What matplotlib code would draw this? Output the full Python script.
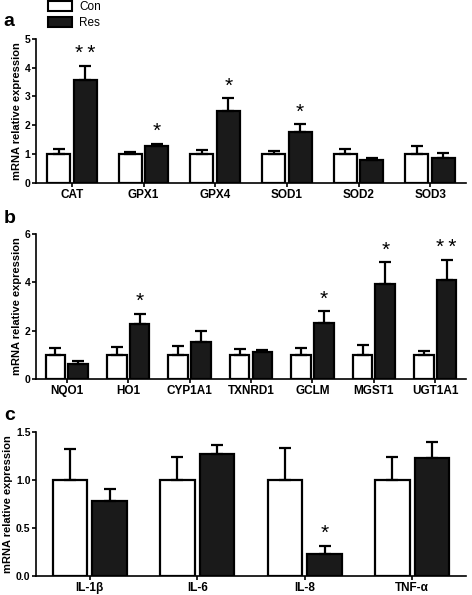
import matplotlib
matplotlib.use("Agg")
import matplotlib.pyplot as plt
import numpy as np
from matplotlib.patches import Patch

plt.rcParams['font.family'] = ['Liberation Sans', 'DejaVu Sans']

# Panel a
genes_a = ["CAT", "GPX1", "GPX4", "SOD1", "SOD2", "SOD3"]
con_a = [1.0, 1.0, 1.0, 1.0, 1.0, 1.0]
con_a_err = [0.17, 0.08, 0.13, 0.11, 0.19, 0.30]
res_a = [3.58, 1.29, 2.48, 1.78, 0.80, 0.85]
res_a_err = [0.48, 0.06, 0.45, 0.25, 0.07, 0.18]
sig_a = ["**", "*", "*", "*", "", ""]

# Panel b
genes_b = ["NQO1", "HO1", "CYP1A1", "TXNRD1", "GCLM", "MGST1", "UGT1A1"]
con_b = [1.0, 1.0, 1.0, 1.0, 1.0, 1.0, 1.0]
con_b_err = [0.27, 0.30, 0.36, 0.23, 0.29, 0.42, 0.14]
res_b = [0.62, 2.27, 1.53, 1.10, 2.29, 3.92, 4.10]
res_b_err = [0.13, 0.43, 0.43, 0.08, 0.50, 0.89, 0.80]
sig_b = ["", "*", "", "", "*", "*", "**"]

# Panel c
genes_c = ["IL-1β", "IL-6", "IL-8", "TNF-α"]
con_c = [1.0, 1.0, 1.0, 1.0]
con_c_err = [0.33, 0.24, 0.34, 0.24]
res_c = [0.78, 1.27, 0.23, 1.235]
res_c_err = [0.13, 0.10, 0.08, 0.16]
sig_c = ["", "", "*", ""]

panels = [
    ("a", genes_a, con_a, con_a_err, res_a, res_a_err, sig_a, (0, 5), [0, 1, 2, 3, 4, 5], "{:.0f}", 0.6924, 0.2425, 0.9633),
    ("b", genes_b, con_b, con_b_err, res_b, res_b_err, sig_b, (0, 6), [0, 2, 4, 6], "{:.0f}", 0.3630, 0.2445, 0.6336),
    ("c", genes_c, con_c, con_c_err, res_c, res_c_err, sig_c, (0, 1.5), [0.0, 0.5, 1.0, 1.5], "{:.1f}", 0.0319, 0.2415, 0.3025),
]

fig = plt.figure(figsize=(4.72, 5.95), dpi=100)
W = 0.32
OFF = 0.185

for label, genes, con, con_err, res, res_err, sig, ylim, yticks, fmt, bot, h, lab_y in panels:
    ax = fig.add_axes([0.0763, bot, 0.911, h])
    x = np.arange(len(genes))
    ek = dict(ecolor="black", elinewidth=1.6, capsize=4, capthick=1.6)
    ax.bar(x - OFF, con, W, color="white", edgecolor="black", linewidth=1.6,
           yerr=[np.zeros(len(con)), con_err], error_kw=ek, zorder=2)
    ax.bar(x + OFF, res, W, color="#1a1a1a", edgecolor="black", linewidth=1.6,
           yerr=[np.zeros(len(res)), res_err], error_kw=ek, zorder=2)
    for xi, r, e, s in zip(x, res, res_err, sig):
        if s:
            ax.annotate("\u2009".join(s), xy=(xi + OFF, r + e), xytext=(0, 9), textcoords="offset points",
                        ha="center", va="center", fontsize=15, fontweight="normal")
    ax.set_xlim(-0.5, len(genes) - 0.5)
    ax.set_ylim(*ylim)
    ax.set_yticks(yticks)
    ax.set_yticklabels([fmt.format(v) for v in yticks], fontsize=7.5, fontweight="bold")
    ax.set_xticks(x)
    ax.set_xticklabels(genes, fontsize=8.5, fontweight="bold")
    ax.spines["top"].set_visible(False)
    ax.spines["right"].set_visible(False)
    ax.spines["left"].set_linewidth(1.2)
    ax.spines["bottom"].set_linewidth(1.2)
    ax.tick_params(axis="y", direction="out", length=3, width=1.2, pad=1)
    ax.tick_params(axis="x", direction="out", length=3, width=1.2, pad=1)
    ax.set_ylabel("mRNA relative expression", fontsize=8, fontweight="bold", labelpad=2)
    fig.text(0.008, lab_y, label, fontsize=14, fontweight="bold", ha="left", va="center")

handles = [Patch(facecolor="white", edgecolor="black", linewidth=1.5, label="Con"),
           Patch(facecolor="#1a1a1a", edgecolor="black", linewidth=1.5, label="Res")]
fig.legend(handles=handles, loc="upper left", bbox_to_anchor=(0.085, 1.012), frameon=False,
           fontsize=8.5, handlelength=2.0, handleheight=0.9, handletextpad=0.6, labelspacing=0.35,
           borderpad=0.2)

fig.savefig("out.png", dpi=100)
